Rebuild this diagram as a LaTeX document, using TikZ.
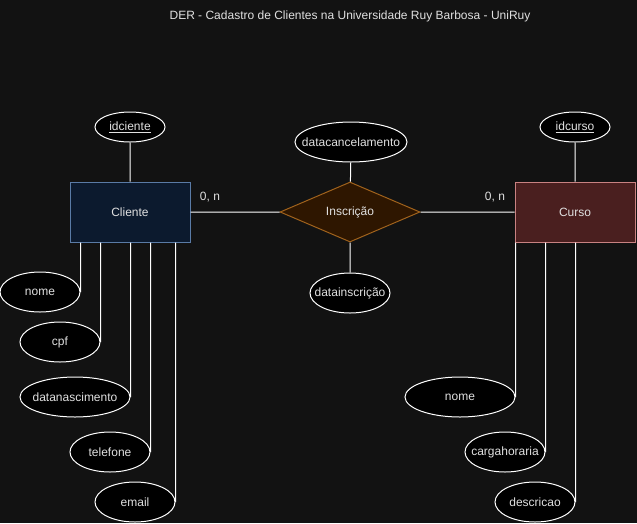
\documentclass[tikz,border=0pt]{standalone}
\usepackage{fontspec}
\setmainfont{Liberation Sans}
\usetikzlibrary{shapes.geometric,positioning}
\definecolor{fundo}{HTML}{121212}
\definecolor{texto}{HTML}{E0E0E0}
\definecolor{clientefill}{HTML}{0C1A2E}
\definecolor{clientedraw}{HTML}{5A7BA6}
\definecolor{cursofill}{HTML}{4A1F1F}
\definecolor{cursodraw}{HTML}{C98282}
\definecolor{relfill}{HTML}{2E1600}
\definecolor{reldraw}{HTML}{A0621C}
\newcommand{\chave}[1]{\makebox[0pt]{\underline{#1}}}
\newcommand{\atr}[1]{\makebox[0pt]{#1}}

\begin{document}
\begin{tikzpicture}[x=1pt, y=-1pt,
    every node/.style={text=texto, font=\fontsize{12}{14}\selectfont},
    entidade/.style={rectangle, line width=1pt, minimum width=120pt, minimum height=60pt, inner sep=0pt},
    relacao/.style={diamond, draw=reldraw, fill=relfill, line width=1pt, minimum width=140pt, minimum height=60pt, inner sep=0pt},
    atributo/.style={ellipse, draw=white, fill=black, line width=1pt, minimum width=80pt, minimum height=40pt, inner sep=0pt},
    ligacao/.style={draw=white, line width=1pt}
]
    \fill[fundo] (0,0) rectangle (637,523);
    \useasboundingbox (0,0) rectangle (637,523);

    \node (titulo) at (350,16) {DER - Cadastro de Clientes na Universidade Ruy Barbosa - UniRuy};

    % entidades e relacao
    \node[entidade, draw=clientedraw, fill=clientefill] (cliente) at (130,212) {Cliente};
    \node[entidade, draw=cursodraw, fill=cursofill] (curso) at (575,212) {Curso};
    \node[relacao] (inscricao) at (350,212) {\atr{Inscrição}};

    % atributos de Cliente
    \node[atributo, minimum width=70pt, minimum height=30pt] (idcliente) at (130,127) {\chave{idciente}};
    \node[atributo] (nome) at (40,292) {\atr{nome}};
    \node[atributo] (cpf) at (60,342) {\atr{cpf}};
    \node[atributo, minimum width=110pt] (datanascimento) at (75,397) {\atr{datanascimento}};
    \node[atributo] (telefone) at (110,452) {\atr{telefone}};
    \node[atributo] (email) at (135,502) {\atr{email}};

    % atributos de Inscricao
    \node[atributo, minimum width=112pt] (datacancelamento) at (351,142) {\atr{datacancelamento}};
    \node[atributo] (datainscricao) at (350,293) {\atr{datainscrição}};

    % atributos de Curso
    \node[atributo, minimum width=70pt, minimum height=30pt] (idcurso) at (575,127) {\chave{idcurso}};
    \node[atributo, minimum width=110pt] (nomecurso) at (460,397) {\atr{nome}};
    \node[atributo] (cargahoraria) at (505,452) {\atr{cargahoraria}};
    \node[atributo] (descricao) at (535,502) {\atr{descricao}};

    % cardinalidades
    \node (cardcliente) at (210,197) {0, n};
    \node (cardcurso) at (495,197) {0, n};

    % ligacoes
    \draw[ligacao]
    (idcliente) -- (cliente)
    (cliente) -- (inscricao)
    (inscricao) -- (curso)
    (idcurso) -- (curso)
    (datacancelamento) -- (inscricao)
    (inscricao) -- (datainscricao)
    (cliente.south -| nome.east) -- (nome.east)
    (cliente.south -| cpf.east) -- (cpf.east)
    (cliente.south -| datanascimento.east) -- (datanascimento.east)
    (cliente.south -| telefone.east) -- (telefone.east)
    (cliente.south -| email.east) -- (email.east)
    (curso.south -| nomecurso.east) -- (nomecurso.east)
    (curso.south -| cargahoraria.east) -- (cargahoraria.east)
    (curso.south -| descricao.east) -- (descricao.east);
\end{tikzpicture}
\end{document}
